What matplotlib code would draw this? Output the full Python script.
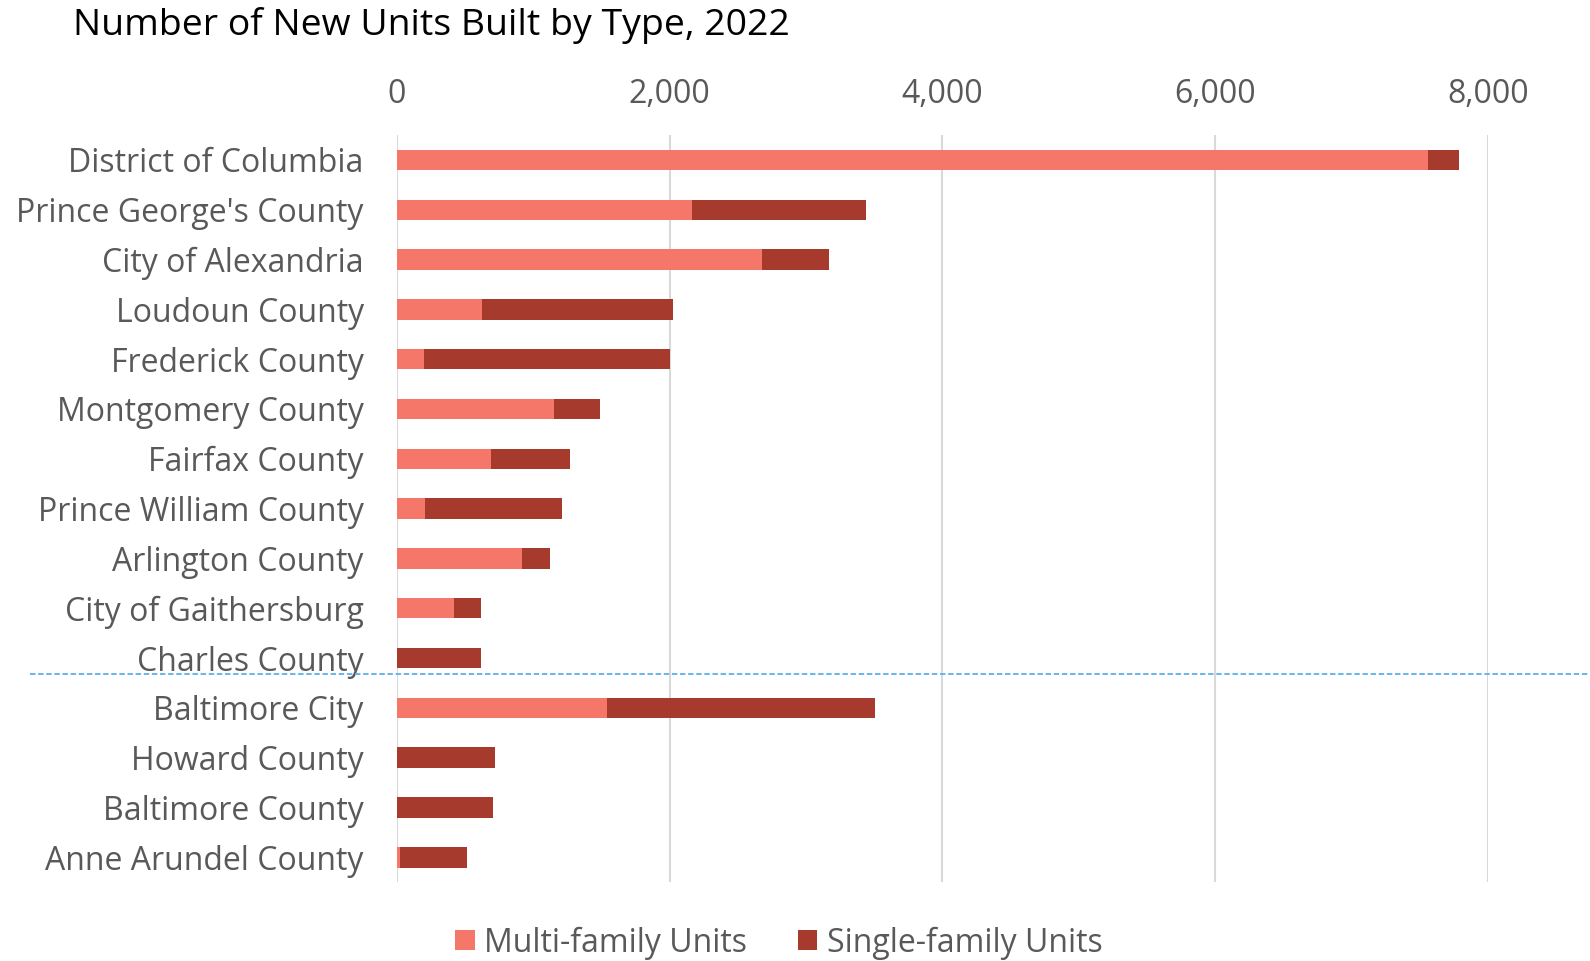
import numpy as np
import matplotlib.pyplot as plt
from matplotlib.lines import Line2D

# Datos
counties = ['District of Columbia', "Prince George's County", 'City of Alexandria',
            'Loudoun County', 'Frederick County', 'Montgomery County', 'Fairfax County',
            'Prince William County', 'Arlington County', 'City of Gaithersburg',
            'Charles County', 'Baltimore City', 'Howard County', 'Baltimore County',
            'Anne Arundel County']
multi_family = [7560, 2165, 2680, 620, 200, 1150, 690, 208, 920, 416, 0, 1540, 0, 0, 20]
single_family = [225, 1272, 490, 1405, 1800, 337, 581, 1004, 203, 200, 614, 1968, 719, 702, 491]

plt.rcParams['font.family'] = ['Open Sans', 'DejaVu Sans']

fig = plt.figure(figsize=(15.9, 9.61), dpi=100)
ax = fig.add_axes([0.2497, 0.082, 0.6861, 0.7775])

y = np.arange(len(counties))
ax.barh(y, multi_family, height=0.41, color='#F4776A', label='Multi-family Units', zorder=3)
ax.barh(y, single_family, left=multi_family, height=0.41, color='#A63B2D',
        label='Single-family Units', zorder=3)

ax.set_xlim(0, 8000)
ax.set_ylim(len(counties) - 0.5, -0.5)
ax.set_yticks(y)
ax.set_yticklabels(counties, fontsize=23, color='#595959')
ax.set_xticks([0, 2000, 4000, 6000, 8000])
ax.set_xticklabels(['0', '2,000', '4,000', '6,000', '8,000'], fontsize=23, color='#595959')
ax.xaxis.tick_top()
ax.tick_params(axis='both', length=0)
ax.tick_params(axis='x', pad=17)
ax.tick_params(axis='y', pad=24)
ax.grid(axis='x', color='#D9D9D9', linewidth=1.5, zorder=0)
for s in ax.spines.values():
    s.set_visible(False)

# Línea divisoria entre regiones
y_line = ax.transData.transform((0, 10.33))[1]
y_fig = fig.transFigure.inverted().transform((0, y_line))[1]
fig.add_artist(Line2D([30 / 1590, 1.0], [y_fig, y_fig], color='#5DB0EA',
                      linestyle=(0, (3, 1.5)), linewidth=1.3))

fig.text(73 / 1590, 1 - 26 / 961, 'Number of New Units Built by Type, 2022',
         fontsize=26.9, color='black', va='center', ha='left')

fig.legend(loc='center', bbox_to_anchor=(0.490, 1 - 943 / 961), ncol=2, frameon=False,
           fontsize=23, labelcolor='#595959', handlelength=0.6, handleheight=0.6,
           handletextpad=0.3, columnspacing=1.6)

fig.savefig('out.png', dpi=100)
